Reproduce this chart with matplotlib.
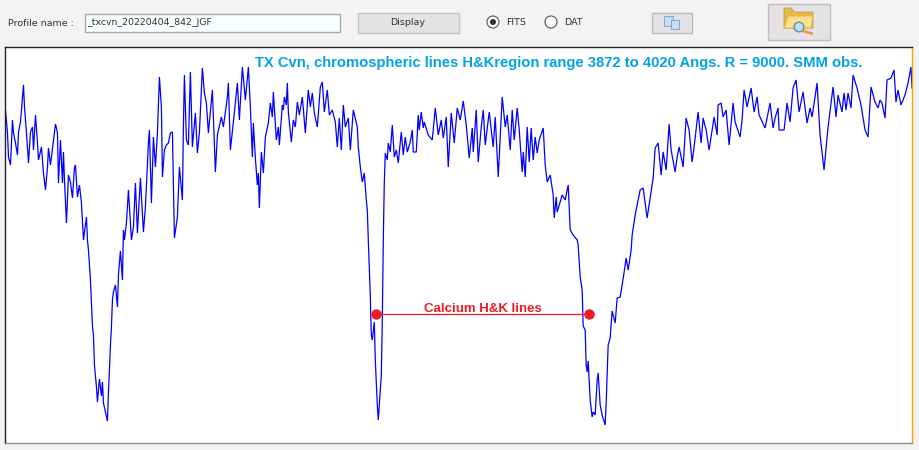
"""TX Cvn Ca II H&K profile, drawn inside the acquisition tool's window."""
import matplotlib
matplotlib.use("Agg")
import matplotlib.pyplot as plt
from matplotlib.patches import Circle, Polygon, Rectangle

# spectrum, one pair of lists per stretch:
# sample column and relative flux
wing_col = [
    5, 7, 8, 10, 12, 13, 15, 17, 18, 20, 23, 24, 26, 28, 30, 32, 33, 35, 37, 38,
    41, 43, 45, 47, 48, 50, 53, 55, 57, 58, 60, 62, 63, 64, 66, 68, 70, 72, 74, 75,
    77, 79, 81, 83, 86, 87, 88, 90, 92, 93, 94, 96, 97, 99, 101, 102, 103, 105, 107, 108,
    109, 110, 111, 112, 113, 115, 117, 118, 120, 122, 123, 124, 126, 128, 131, 133, 135, 137, 140, 143,
    145, 148, 149, 151, 153, 155, 157, 159, 161, 162, 164, 166, 168, 170, 172, 173, 174, 177, 179, 182,
    183, 184, 186, 188, 190, 192, 195, 197, 199, 202, 204, 206, 208, 212, 215, 217, 221, 223, 227, 228,
    230, 233, 237, 239, 242, 245, 248, 250, 252, 253,
]
wing_flux = [
    333, 310, 286, 278, 323, 310, 300, 288, 311, 321, 358, 336, 310, 280, 311, 316, 293, 328, 300, 283,
    296, 270, 253, 276, 295, 278, 303, 319, 310, 260, 303, 260, 291, 263, 220, 268, 261, 245, 275, 278,
    246, 258, 240, 203, 226, 203, 193, 163, 117, 108, 78, 56, 41, 64, 47, 61, 40, 31, 22, 51,
    73, 98, 116, 143, 151, 158, 136, 168, 192, 163, 213, 203, 220, 253, 203, 216, 260, 210, 265, 211,
    236, 300, 313, 240, 306, 276, 310, 366, 336, 266, 293, 298, 300, 310, 311, 260, 205, 226, 276, 243,
    316, 368, 303, 298, 371, 296, 330, 290, 310, 375, 350, 340, 310, 353, 271, 308, 326, 316, 346, 360,
    293, 321, 360, 323, 376, 343, 376, 336, 286, 320,
]
before_k_col = [
    255, 257, 258, 259, 261, 263, 265, 268, 270, 272, 273, 276, 278, 279, 282, 283, 284, 286, 287, 288,
    291, 293, 295, 297, 299, 302, 305, 308, 310, 312, 314, 317, 320, 322, 324, 327, 329, 332, 335, 337,
    339, 341, 343, 345, 348, 350, 353, 357, 358, 360, 362, 364, 366,
]
before_k_flux = [
    285, 258, 270, 235, 291, 270, 306, 320, 340, 326, 351, 303, 316, 298, 338, 333, 346, 338, 360, 331,
    301, 323, 316, 341, 328, 346, 310, 353, 336, 350, 330, 316, 356, 361, 331, 353, 328, 333, 321, 296,
    325, 293, 338, 316, 325, 293, 333, 316, 296, 276, 261, 270, 243,
]
k_core_col = [367, 368, 370, 371, 372, 374, 375, 377, 378, 379, 381, 382, 383]
k_core_flux = [233, 203, 147, 108, 103, 121, 83, 38, 23, 38, 68, 123, 203]
between_col = [
    384, 385, 387, 388, 390, 392, 394, 396, 398, 401, 403, 405, 407, 410, 412, 413, 416, 418, 419, 421,
    423, 424, 428, 432, 435, 438, 441, 443, 446, 448, 451, 454, 457, 460, 463, 466, 469, 472, 473, 476,
    478, 481, 483, 485, 489, 493, 495, 498, 502, 505, 507, 510, 512, 514, 517, 519, 522, 523, 525, 527,
    529, 531, 533, 535, 537, 539, 543, 545, 547, 550,
]
between_flux = [
    260, 290, 283, 300, 291, 318, 286, 293, 280, 311, 288, 306, 291, 301, 313, 291, 291, 328, 313, 331,
    315, 321, 308, 303, 335, 308, 323, 305, 326, 276, 330, 300, 335, 323, 342, 318, 285, 315, 291, 333,
    281, 316, 333, 298, 331, 296, 326, 266, 346, 316, 328, 293, 333, 303, 335, 313, 271, 291, 266, 316,
    281, 315, 283, 306, 290, 303, 315, 278, 261, 268,
]
h_core_col = [
    553, 554, 556, 557, 562, 565, 568, 570, 573, 577, 578, 580, 582, 583, 585, 586, 587, 588, 590, 592,
    593, 595, 597, 598, 600, 602, 605, 606, 607, 608, 610, 612, 615, 617, 620, 622, 624, 626, 628, 631,
    632, 635, 637, 640, 643, 647,
]
h_core_flux = [
    248, 225, 246, 231, 248, 243, 258, 213, 208, 203, 198, 166, 153, 117, 113, 78, 71, 82, 43, 26,
    31, 28, 63, 70, 38, 28, 18, 40, 68, 98, 105, 132, 120, 145, 146, 158, 171, 185, 173, 193,
    208, 228, 238, 253, 255, 225,
]
red_side_col = [
    652, 653, 655, 658, 661, 663, 666, 669, 671, 675, 677, 679, 683, 686, 689, 692, 694, 698, 701, 703,
    706, 709, 714, 717, 718, 721, 723, 726, 729, 733, 735, 740, 742, 744, 747, 751, 754, 757, 759, 765,
    770, 773, 775, 778, 779, 784, 787, 790, 793, 796, 799, 803, 807, 810, 812, 817, 820, 824, 828, 833,
    836, 838, 842, 844, 846, 848, 851, 853, 857, 861, 865, 868, 871, 875, 878, 880, 882, 885, 887, 891,
    894, 896, 898, 901, 905, 908, 911, 912,
]
red_side_flux = [
    258, 265, 295, 300, 268, 291, 273, 319, 293, 271, 286, 296, 276, 325, 313, 281, 296, 331, 300, 325,
    313, 293, 326, 308, 338, 340, 326, 333, 298, 340, 321, 306, 323, 353, 336, 355, 331, 346, 328, 315,
    340, 315, 325, 335, 313, 313, 340, 321, 355, 363, 331, 351, 320, 335, 326, 360, 308, 273, 316, 356,
    326, 348, 331, 350, 333, 350, 335, 368, 355, 338, 313, 306, 356, 341, 335, 343, 340, 325, 363, 365,
    373, 341, 353, 338, 348, 360, 376, 355,
]

# continuum window of the observation, Angstrom
wave_start = 3872
wave_end = 4020
# the two calcium lines and the flux level of the connector
ca_k_wave = 3932.6
ca_h_wave = 3967.3
marker_flux = 129

BLUE = "#0000FF"
RED = "#ED1C24"
TITLE_BLUE = "#00A2E8"
WINDOW = "#F5F2F5"
BUTTON = "#E5E2E5"
EDGE = "#A8A8A8"

sample_col = wing_col + before_k_col + k_core_col + between_col + h_core_col + red_side_col
flux = wing_flux + before_k_flux + k_core_flux + between_flux + h_core_flux + red_side_flux
wave = [wave_start + (c - 4) * (wave_end - wave_start) / 908 for c in sample_col]

fig = plt.figure(figsize=(9.19, 4.5), dpi=100, facecolor=WINDOW)

ax = fig.add_axes([4.5 / 919, 7 / 450, 907.5 / 919, 396 / 450])
ax.plot(wave, flux, color=BLUE, linewidth=0.9, solid_joinstyle="miter")
ax.plot([ca_k_wave, ca_h_wave], [marker_flux, marker_flux], color=RED, linewidth=0.9,
        marker="o", markersize=6.5, markerfacecolor=RED, markeredgecolor=RED)
ax.text((ca_k_wave + ca_h_wave) / 2, marker_flux - 1, "Calcium H&K lines", color=RED,
        fontsize=9.55, fontweight="bold", family="Liberation Sans", ha="center", va="bottom")
ax.text(0.2755, 0.96, "TX Cvn, chromospheric lines H&Kregion range 3872 to 4020 Angs. R = 9000. SMM obs.",
        transform=ax.transAxes, color=TITLE_BLUE, fontsize=10.65, fontweight="bold",
        family="Liberation Sans", ha="left", va="center")
ax.set_xlim(wave_start, wave_end)
ax.set_ylim(0, 396)
ax.set_xticks([])
ax.set_yticks([])
ax.spines["left"].set_color("#222222")
ax.spines["top"].set_color("#222222")
ax.spines["bottom"].set_color("#8A8A8A")
ax.spines["right"].set_color("#FFA500")
for side in ax.spines.values():
    side.set_linewidth(1.0)

# window controls above the plot, laid out in screen pixels
ui = fig.add_axes([0, 0, 1, 1], zorder=-1)
ui.set_xlim(0, 919)
ui.set_ylim(450, 0)
ui.axis("off")
ui.text(7.5, 23, "Profile name :", fontsize=6.8, family="DejaVu Sans", color="#333333", va="center")
ui.add_patch(Rectangle((84.5, 13.5), 255, 18, facecolor="#F8FFFF", edgecolor=EDGE, linewidth=1.0))
ui.text(87, 22.5, "_txcvn_20220404_842_JGF", fontsize=6.75, family="DejaVu Sans", color="#333333", va="center")
ui.add_patch(Rectangle((357.5, 12.5), 101, 20, facecolor=BUTTON, edgecolor="#C4C4C4", linewidth=1.0))
ui.text(407.5, 22.5, "Display", fontsize=6.8, family="DejaVu Sans", color="#333333", ha="center", va="center")

ui.add_patch(Circle((493, 22), 6, facecolor="white", edgecolor="#555555", linewidth=0.8))
ui.add_patch(Circle((493, 22), 3, facecolor="#333333", edgecolor="none"))
ui.text(506.5, 22.5, "FITS", fontsize=6.8, family="DejaVu Sans", color="#333333", va="center")
ui.add_patch(Circle((551, 22), 6, facecolor="white", edgecolor="#555555", linewidth=0.8))
ui.text(564.5, 22.5, "DAT", fontsize=6.8, family="DejaVu Sans", color="#333333", va="center")

ui.add_patch(Rectangle((651.5, 12.5), 40, 20, facecolor=BUTTON, edgecolor="#BDBDBD", linewidth=1.0))
ui.add_patch(Rectangle((664, 15.5), 9, 10, facecolor="#C6DDF2", edgecolor="#7FA8CC", linewidth=0.7))
ui.add_patch(Rectangle((671, 20), 8, 9, facecolor="#C6DDF2", edgecolor="#7FA8CC", linewidth=0.7))

ui.add_patch(Rectangle((767.5, 3.5), 62, 36, facecolor=BUTTON, edgecolor="#BDBDBD", linewidth=1.0))
ui.add_patch(Polygon([(784, 8), (791, 8), (794, 12), (813, 12), (813, 28), (784, 28)],
                     facecolor="#E8B84A", edgecolor="#C49A3A", linewidth=0.6))
ui.add_patch(Polygon([(784, 28), (788, 16), (813, 16), (811, 28)],
                     facecolor="#FFE08A", edgecolor="#D9B050", linewidth=0.6))
ui.add_patch(Circle((799, 27), 4.8, facecolor="#BFE3F2", edgecolor="#5C8FB0", linewidth=1.0))
ui.plot([803, 812], [31, 33.5], color="#E89A2C", linewidth=1.8, solid_capstyle="round")

fig.savefig("out.png", dpi=100, facecolor=fig.get_facecolor())
